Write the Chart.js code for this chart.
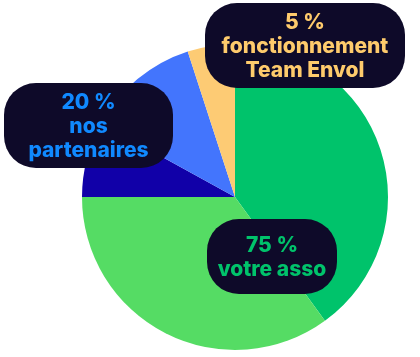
<!DOCTYPE html>
<html>
<head>
<meta charset="utf-8">
<script src="https://cdn.jsdelivr.net/npm/chart.js"></script>
<style>
  html, body { margin: 0; padding: 0; background: #ffffff; }
  #wrap { width: 420px; height: 357px; }
</style>
</head>
<body>
<div id="wrap"><canvas id="pie"></canvas></div>
<script>
// Slices, clockwise from 12 o'clock
const sliceNames = ['votre asso (a)', 'votre asso (b)', 'nos partenaires (a)', 'nos partenaires (b)', 'fonctionnement Team Envol'];
const sliceValues = [40, 35, 8, 12, 5];
const sliceColors = ['#00c36b', '#55dc64', '#1100a8', '#4375fd', '#fdcb74'];

// Callout labels
const calloutLines = [
    ['5 %', 'fonctionnement', 'Team Envol'],
    ['20 %', 'nos', 'partenaires'],
    ['75 %', 'votre asso']
];
const calloutColors = ['#fecb6c', '#1089ff', '#00c36b'];

// box: x, y, w, h (px) for each callout
const calloutBoxes = [
    [205, 3, 200, 85],
    [4, 83, 169, 85],
    [207, 219, 130, 75]
];

function roundRect(ctx, x, y, w, h, r) {
    ctx.beginPath();
    ctx.moveTo(x + r, y);
    ctx.arcTo(x + w, y, x + w, y + h, r);
    ctx.arcTo(x + w, y + h, x, y + h, r);
    ctx.arcTo(x, y + h, x, y, r);
    ctx.arcTo(x, y, x + w, y, r);
    ctx.closePath();
}

const calloutPlugin = {
    id: 'callouts',
    afterDraw(chart) {
        const ctx = chart.ctx;
        ctx.save();
        calloutBoxes.forEach((b, i) => {
            const [x, y, w, h] = b;
            ctx.fillStyle = '#0e0a29';
            roundRect(ctx, x, y, w, h, 32);
            ctx.fill();

            const lines = calloutLines[i];
            const lh = 24;
            const cx = x + w / 2;
            const cy = y + h / 2 - (lines.length - 1) * lh / 2;
            ctx.fillStyle = calloutColors[i];
            ctx.font = '800 21px Inter, "DejaVu Sans", sans-serif';
            ctx.textAlign = 'center';
            ctx.textBaseline = 'middle';
            lines.forEach((t, j) => ctx.fillText(t, cx, cy + j * lh + 1));
        });
        ctx.restore();
    }
};

new Chart(document.getElementById('pie'), {
    type: 'pie',
    data: {
        labels: sliceNames,
        datasets: [{
            data: sliceValues,
            backgroundColor: sliceColors,
            borderWidth: 0
        }]
    },
    options: {
        responsive: true,
        maintainAspectRatio: false,
        animation: false,
        layout: { padding: { left: 82, right: 32, top: 44, bottom: 7 } },
        plugins: {
            legend: { display: false },
            tooltip: { enabled: false }
        }
    },
    plugins: [calloutPlugin]
});
</script>
</body>
</html>
